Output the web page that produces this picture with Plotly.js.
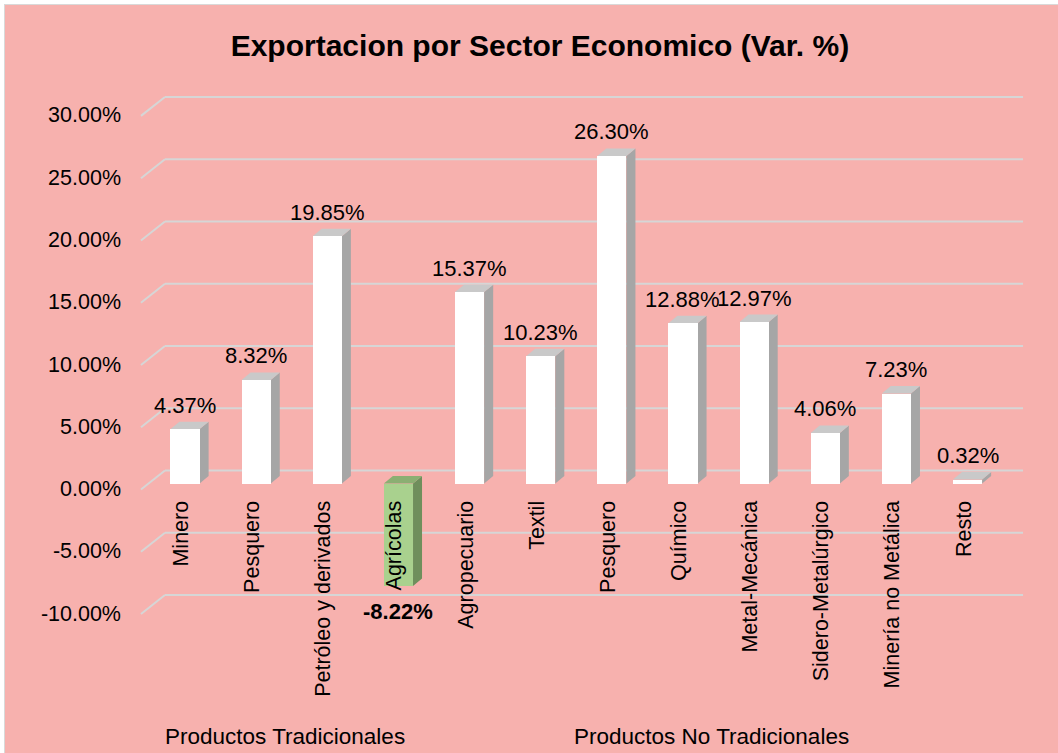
<!DOCTYPE html>
<html>
<head>
<meta charset="utf-8">
<script src="https://cdn.plot.ly/plotly-3.0.1.min.js"></script>
<style>
html,body{margin:0;padding:0;background:#ffffff;}
#wrap{position:absolute;left:4px;top:4px;width:1054px;height:749px;border-left:1px solid #d9d9d9;border-top:1px solid #d9d9d9;box-sizing:border-box;}
#chart{width:1053px;height:748px;}
</style>
</head>
<body>
<div id="wrap"><div id="chart"></div></div>
<script>
// ---- data ----
const categories = ['Minero','Pesquero','Petróleo y derivados','Agrícolas','Agropecuario','Textil','Pesquero','Químico','Metal-Mecánica','Sidero-Metalúrgico','Minería no Metálica','Resto'];
const values = [4.37, 8.32, 19.85, -8.22, 15.37, 10.23, 26.30, 12.88, 12.97, 4.06, 7.23, 0.32];
const groupNames = ['Productos Tradicionales','Productos No Tradicionales'];
const groupSizes = [4, 8];
const yTicks = [-10, -5, 0, 5, 10, 15, 20, 25, 30];
const yTickText = ['-10.00%', '-5.00%', '0.00%', '5.00%', '10.00%', '15.00%', '20.00%', '25.00%', '30.00%'];
const chartTitle = 'Exportacion por Sector Economico (Var. %)';

// ---- styling ----
const FONT = 'Liberation Sans, Arial, sans-serif';
const BG = '#F7B1AE';
const GRID = '#D6D6D6';
const barW = 0.41;      // front face width (x units)
const depthX = 0.1265;  // 3D depth (x units)
const depthY = 0.60;    // 3D depth (y units)
const backOff = 1.044;  // back wall offset (y units)
const frontOff = -0.48; // front end of slanted gridline (y units)

const xIdx = categories.map((_, i) => i);
const pos = values.map(v => v >= 0);
const frontCol = pos.map(p => p ? '#FFFFFF' : '#A9D18E');
const sideCol = pos.map(p => p ? '#A6A6A6' : '#6F8F5C');
const topCol = pos.map(p => p ? '#C9C9C9' : '#8BAF72');

const shapes = [];
// gridlines (back wall + slanted side wall)
yTicks.forEach(t => {
  shapes.push({type:'line', xref:'paper', yref:'y', x0:0.0432, x1:0.9945, y0:t+backOff, y1:t+backOff,
    line:{color:GRID, width:2}, layer:'below'});
  shapes.push({type:'line', xref:'paper', yref:'y', x0:0.0166, x1:0.0432, y0:t+frontOff, y1:t+backOff,
    line:{color:GRID, width:2}, layer:'below'});
});
// 3D faces of the bars
values.forEach((v, i) => {
  const lo = Math.min(0, v), hi = Math.max(0, v);
  const x0 = i - barW/2, x1 = i + barW/2;
  const side = `M ${x1},${lo} L ${x1+depthX},${lo+depthY} L ${x1+depthX},${hi+depthY} L ${x1},${hi} Z`;
  const top = `M ${x0},${hi} L ${x0+depthX},${hi+depthY} L ${x1+depthX},${hi+depthY} L ${x1},${hi} Z`;
  shapes.push({type:'path', xref:'x', yref:'y', path:side, fillcolor:sideCol[i], line:{width:0}, layer:'below'});
  shapes.push({type:'path', xref:'x', yref:'y', path:top, fillcolor:topCol[i], line:{width:0}, layer:'below'});
});

const annotations = [];
values.forEach((v, i) => {
  annotations.push({
    x: i, y: v, xref:'x', yref:'y', showarrow:false,
    text: v < 0 ? '<b>' + v.toFixed(2) + '%</b>' : v.toFixed(2) + '%',
    yanchor:'middle', xanchor:'center', yshift: v < 0 ? -26 : 24,
    font:{family:FONT, size:22, color:'#000000'}
  });
});
// group labels
let start = 0;
groupNames.forEach((g, k) => {
  const c = start + (groupSizes[k] - 1) / 2;
  annotations.push({x:c, y:-0.188, xref:'x', yref:'paper', text:g, showarrow:false,
    xanchor:'center', yanchor:'middle', xshift:-7, font:{family:FONT, size:22.5, color:'#000000'}});
  start += groupSizes[k];
});

const trace = {
  type:'bar', x:xIdx, y:values, width:barW,
  marker:{color:frontCol, line:{width:0}},
  hoverinfo:'skip', showlegend:false
};

const layout = {
  width:1053, height:748,
  paper_bgcolor:BG, plot_bgcolor:'rgba(0,0,0,0)',
  margin:{l:121, r:30, t:80, b:120, pad:0},
  title:{text:'<b>' + chartTitle + '</b>', x:0.508, xanchor:'center', y:0.946, yanchor:'middle',
    font:{family:FONT, size:30, color:'#000000'}},
  xaxis:{range:[-0.83, 11.85], tickvals:xIdx, ticktext:categories, tickangle:-90,
    anchor:'free', position:12/44, showgrid:false, zeroline:false, showline:false, ticks:'',
    ticklabelstandoff:12, ticklabelshift:-4,
    tickfont:{family:FONT, size:21.5, color:'#000000'}},
  yaxis:{range:[-12, 32], tickvals:yTicks, ticktext:yTickText,
    showgrid:false, zeroline:false, showline:false, ticks:'', ticklabelshift:5, ticklabelstandoff:4,
    tickfont:{family:FONT, size:21.5, color:'#000000'}},
  shapes:shapes, annotations:annotations, bargap:0
};

Plotly.newPlot('chart', [trace], layout, {displayModeBar:false, staticPlot:true});
</script>
</body>
</html>
